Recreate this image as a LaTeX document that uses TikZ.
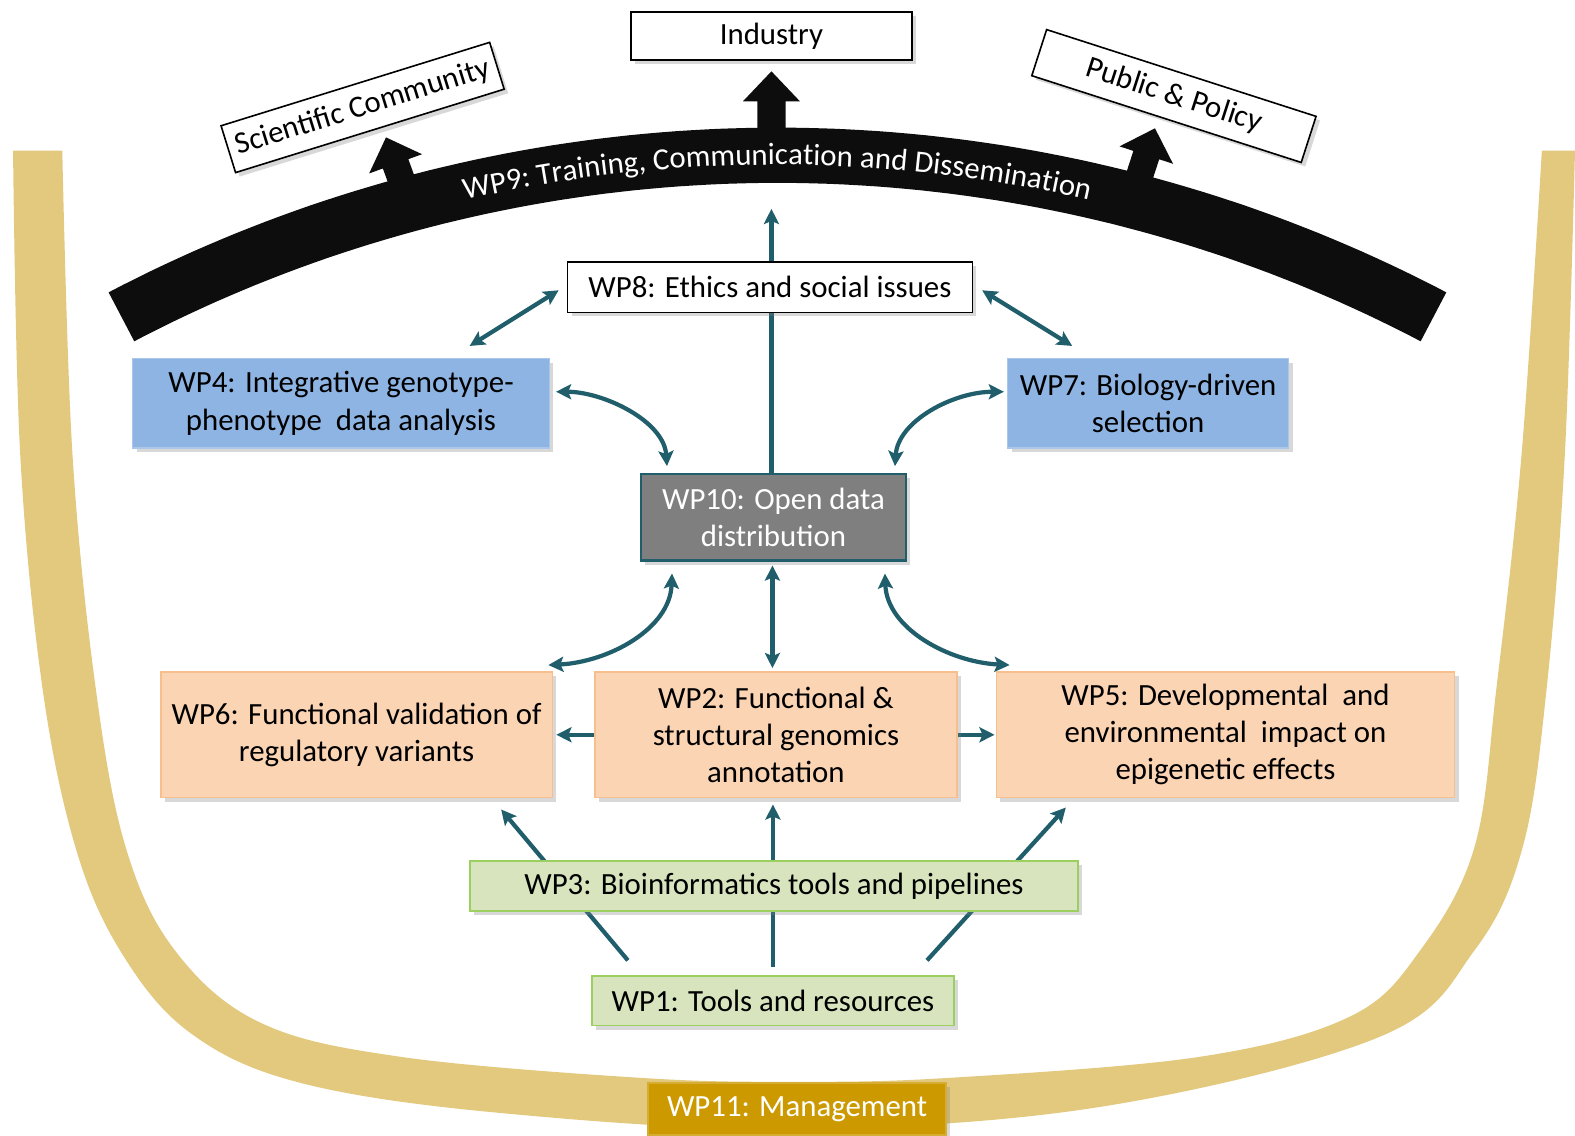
\documentclass[tikz,border=0pt]{standalone}
\usepackage{fontspec}
\setmainfont{Carlito}
\usetikzlibrary{arrows.meta,calc,shadows,decorations.text}
\pgfdeclarelayer{bg}
\pgfdeclarelayer{lines}
\pgfsetlayers{bg,lines,main}
\definecolor{tanband}{HTML}{E2C97E}
\definecolor{mgmt}{HTML}{CC9900}
\definecolor{wpblue}{HTML}{8EB4E3}
\definecolor{wpgray}{HTML}{7F7F7F}
\definecolor{conncol}{HTML}{215E6C}
\definecolor{peach}{HTML}{FBD4B4}
\definecolor{peachline}{HTML}{F7BE8E}
\definecolor{wpgreen}{HTML}{D7E4BD}
\definecolor{greenline}{HTML}{9BD060}
\definecolor{arcblack}{HTML}{0D0D0D}
\newcommand\wpfont{\fontsize{15.35}{18.5}\selectfont}
\begin{document}
\begin{tikzpicture}[x=0.5pt,y=-0.5pt,
  wpbox/.style={align=center, inner sep=0pt, font=\wpfont,
    drop shadow={opacity=0.3,shadow xshift=2pt,shadow yshift=-2pt}},
  whitebox/.style={wpbox, fill=white, draw=black, line width=0.8pt},
  bluebox/.style={wpbox, fill=wpblue, draw=wpblue!75!white, line width=0.6pt},
  peachbox/.style={wpbox, fill=peach, draw=peachline, line width=0.9pt, minimum height=62.5pt},
  greenbox/.style={wpbox, fill=wpgreen, draw=greenline, line width=0.9pt},
  conn/.style={draw=conncol, line width=2.1pt, >={Stealth[length=7.5pt,width=7.5pt,inset=1.5pt]}}]

\useasboundingbox (0,0) rectangle (1568,1130);

% ---------- nodes ----------
\node[whitebox, minimum width=140pt, minimum height=24pt] (ind) at (768,36) {Industry};
\node[whitebox, rotate=17.25, minimum width=140pt, minimum height=24.4pt] (sci) at (361,107) {Scientific Community};
\node[whitebox, rotate=-17.85, minimum width=140.9pt, minimum height=24.1pt] (pub) at (1168.7,95.6) {Public \& Policy};

\node[whitebox, minimum width=201.5pt, minimum height=25pt] (wp8) at (766.5,286) {WP8: Ethics and social issues};
\node[bluebox, minimum width=207.5pt, minimum height=44.5pt] (wp4) at (339.5,401.5) {WP4: Integrative genotype-\\phenotype\ \ data analysis};
\node[bluebox, minimum width=140pt, minimum height=44.5pt] (wp7) at (1143,401.5) {WP7: Biology-driven\\selection};
\node[wpbox, fill=wpgray, draw=conncol, line width=1pt, text=white, minimum width=132pt, minimum height=43pt] (wp10) at (770,515) {WP10: Open data\\distribution};

\node[peachbox, minimum width=195pt] (wp6) at (355,731.5) {WP6: Functional validation of\\regulatory variants};
\node[peachbox, minimum width=180.5pt] (wp2) at (772.5,731.5) {WP2: Functional \&\\structural genomics\\annotation};
\node[peachbox, minimum width=228pt] (wp5) at (1220,731.5) {WP5: Developmental\ \ and\\environmental\ \ impact on\\epigenetic effects};

\node[greenbox, minimum width=302.5pt, minimum height=25pt] (wp3) at (770.5,882) {WP3: Bioinformatics tools and pipelines};
\node[greenbox, minimum width=180.5pt, minimum height=24.5pt] (wp1) at (769.5,996.5) {WP1: Tools and resources};

\node[wpbox, fill=mgmt, draw=mgmt!80!white, line width=0.8pt, text=white, minimum width=148.5pt, minimum height=26pt] (wp11) at (793.5,1104) {WP11: Management};

% ---------- background: band, arc, block arrows ----------
\begin{pgfonlayer}{bg}
\fill[white] (0,0) rectangle (1568,1130);
\fill[tanband] plot[smooth, tension=0.6] coordinates {(13,150) (20,450) (42,683) (75,843) (120,947) (189,1028) (299,1078) (498,1108) (790,1124) (1095,1102) (1374,1032) (1468,946) (1516,843) (1540,683) (1558,450) (1568,150)}
  -- plot[smooth, tension=0.6] coordinates {(1535,150) (1515,450) (1490,683) (1468,843) (1414,946) (1344,1012) (1195,1052) (946,1073) (790,1077) (637,1073) (398,1052) (259,1018) (174,946) (125,843) (95,683) (72,450) (62,150)} -- cycle;

\fill[arcblack] plot[domain=117.67:62.33, samples=90] ({774+1434*cos(\x)},{1561-1434*sin(\x)})
  -- plot[domain=62.33:117.67, samples=90] ({774+1379*cos(\x)},{1561-1379*sin(\x)}) -- cycle;

\path[decorate, decoration={text along path, text align=center, text color=white,
   text={|\wpfont|WP9: Training, Communication and Dissemination}}]
   plot[domain=117.67:62.33, samples=120] ({774+1397*cos(\x)},{1561-1397*sin(\x)});

\begin{scope}[shift={(768,130)}]
\fill[arcblack] (-14,6) -- (-14,-29) -- (-28.5,-29) -- (0,-59) -- (28.5,-29) -- (14,-29) -- (14,6) -- cycle;
\end{scope}
\begin{scope}[shift={(400,180)}, rotate=20]
\fill[arcblack] (-13.5,8) -- (-13.5,-18) -- (-28,-18) -- (0,-46) -- (28,-18) -- (13.5,-18) -- (13.5,8) -- cycle;
\end{scope}
\begin{scope}[shift={(1135,173.4)}, rotate=-18]
\fill[arcblack] (-13.5,8) -- (-13.5,-20) -- (-28,-20) -- (0,-48) -- (28,-20) -- (13.5,-20) -- (13.5,8) -- cycle;
\end{scope}
\end{pgfonlayer}

% ---------- connectors ----------
\begin{pgfonlayer}{lines}
\coordinate (t9) at (768,208);
\draw[conn,->] (wp10.north -| t9) -- (t9);
\draw[conn,<->] ($(wp8.west)+(-8,3)$) -- ($(wp4.north east)+(-80,-12)$);
\draw[conn,<->] ($(wp8.east)+(9,3)$) -- ($(wp7.north west)+(65,-12)$);
\draw[conn,<->] ($(wp4.east)+(6,-11.5)$) .. controls +(47,0) and +(-3,-45) .. ($(wp10.north west)+(27,-7)$);
\draw[conn,<->] ($(wp7.west)+(-3,-11.5)$) .. controls +(-50,0) and +(3,-45) .. ($(wp10.north east)+(-12,-7)$);
\draw[conn,<->] ($(wp10.south west)+(32,12)$) .. controls +(-2,55) and +(60,-3) .. ($(wp6.north east)+(-5,-6)$);
\draw[conn,<->] ($(wp10.south east)+(-22,12)$) .. controls +(2,55) and +(-60,-3) .. ($(wp5.north west)+(14,-6)$);
\draw[conn,<->] ($(wp10.south)+(-1,4)$) -- ($(wp2.north)+(-3.5,-3)$);
\draw[conn,->] (wp2.west) -- ($(wp6.east)+(3,0)$);
\draw[conn,->] (wp2.east) -- ($(wp5.west)+(-1,0)$);
\draw[conn,->] ($(wp1.north west)+(37,-15)$) -- ($(wp6.south east)+(-52,11)$);
\draw[conn,->] ($(wp1.north)+(0,-8)$) -- ($(wp2.south)+(-3,6)$);
\draw[conn,->] ($(wp1.north east)+(-28,-15)$) -- ($(wp5.south west)+(70,9)$);
\end{pgfonlayer}
\end{tikzpicture}
\end{document}
